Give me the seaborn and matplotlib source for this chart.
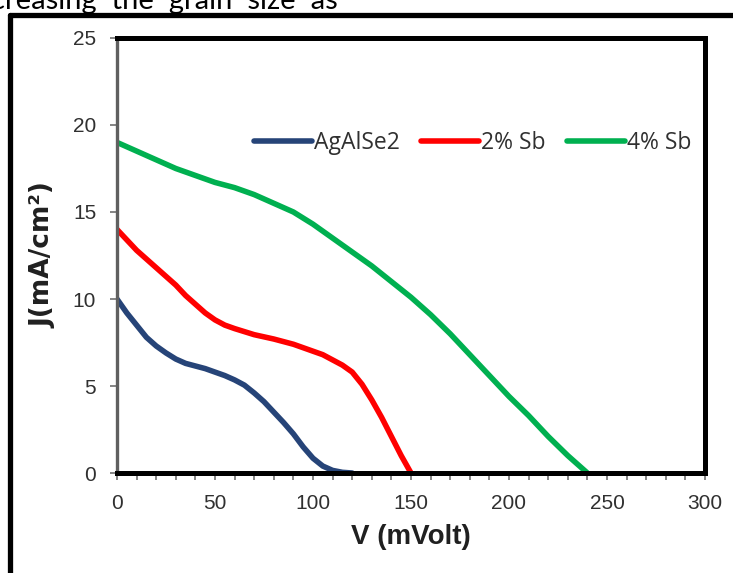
import matplotlib
matplotlib.use("Agg")
import matplotlib.pyplot as plt
from matplotlib.lines import Line2D
from matplotlib.ticker import MultipleLocator
import seaborn as sns
import pandas as pd

# J-V curves of the cells
v_base = [0, 5, 10, 15, 20, 25, 30, 35, 40, 45, 50, 55, 60, 65, 70, 75, 80,
          85, 90, 95, 100, 105, 110, 115, 120]
j_base = [10, 9.2, 8.5, 7.8, 7.3, 6.9, 6.55, 6.3, 6.15, 6.0, 5.8, 5.6, 5.35,
          5.05, 4.6, 4.1, 3.5, 2.9, 2.25, 1.5, 0.85, 0.4, 0.15, 0.04, 0]

v_sb2 = [0, 5, 10, 15, 20, 25, 30, 35, 40, 45, 50, 55, 60, 70, 80, 90, 100,
         105, 110, 115, 120, 125, 130, 135, 140, 145, 150]
j_sb2 = [14, 13.4, 12.8, 12.3, 11.8, 11.3, 10.8, 10.2, 9.7, 9.2, 8.8, 8.5,
         8.3, 7.95, 7.7, 7.4, 7.0, 6.8, 6.5, 6.2, 5.8, 5.1, 4.2, 3.2, 2.1,
         1.0, 0]

v_sb4 = [0, 10, 20, 30, 40, 50, 60, 70, 80, 90, 100, 110, 120, 130, 140,
         150, 160, 170, 180, 190, 200, 210, 220, 230, 240]
j_sb4 = [19, 18.5, 18.0, 17.5, 17.1, 16.7, 16.4, 16.0, 15.5, 15.0, 14.3,
         13.5, 12.7, 11.9, 11.0, 10.1, 9.1, 8.0, 6.8, 5.6, 4.4, 3.3, 2.1,
         1.0, 0]

series_names = ["AgAlSe2", "2% Sb", "4% Sb"]
series_colors = ["#264478", "#FF0000", "#00B050"]

x_ticks = [0, 50, 100, 150, 200, 250, 300]
y_ticks = [0, 5, 10, 15, 20, 25]

frames = []
for name, v, j in zip(series_names, [v_base, v_sb2, v_sb4], [j_base, j_sb2, j_sb4]):
    frames.append(pd.DataFrame({"V": v, "J": j, "sample": name}))
df = pd.concat(frames, ignore_index=True)

sns.set_style("white")
plt.rcParams["font.family"] = ["Liberation Sans", "DejaVu Sans"]

fig = plt.figure(figsize=(7.33, 5.73), dpi=100)
ax = fig.add_axes([0.1596, 0.1745, 0.8022, 0.7592])

sns.lineplot(data=df, x="V", y="J", hue="sample", hue_order=series_names,
             palette=series_colors, linewidth=4.0, sort=False, ax=ax,
             legend=False, solid_capstyle="round", solid_joinstyle="round")

ax.set_xlim(0, 300)
ax.set_ylim(0, 25)
ax.set_xticks(x_ticks)
ax.set_yticks(y_ticks)
ax.xaxis.set_minor_locator(MultipleLocator(10))

for side in ["top", "right", "bottom"]:
    ax.spines[side].set_color("black")
    ax.spines[side].set_linewidth(3.6)
ax.spines["left"].set_color("#606060")
ax.spines["left"].set_linewidth(2.4)

ax.tick_params(axis="x", which="both", direction="out", length=5, width=1.2,
               color="#707070", bottom=True, labelsize=15,
               labelcolor="#303030", pad=10)
ax.tick_params(axis="y", direction="out", length=5, width=1.2,
               color="#707070", left=True, labelsize=15,
               labelcolor="#303030", pad=10)

ax.set_xlabel("V (mVolt)", fontsize=20, fontweight="bold", labelpad=8,
              color="#202020")
ax.set_ylabel("J(mA/cm²)", fontsize=19, fontweight="bold", labelpad=12,
              color="#202020", fontfamily=["DejaVu Sans"])

handles = [Line2D([0], [0], color=c, lw=4.0, solid_capstyle="round")
           for c in series_colors]
leg = ax.legend(handles, series_names, loc="center",
                bbox_to_anchor=(0.605, 0.759), ncol=3, frameon=False,
                handlelength=2.5, handletextpad=0.1, columnspacing=0.95,
                prop={"family": ["Open Sans", "DejaVu Sans"], "size": 16.5})
for t in leg.get_texts():
    t.set_color("#303030")

# surrounding page frame and running text
fig.add_artist(Line2D([0.0136, 0.0136], [0.0, 0.974], transform=fig.transFigure,
                      color="black", lw=3.8))
fig.add_artist(Line2D([0.0136, 1.0], [0.974, 0.974], transform=fig.transFigure,
                      color="black", lw=3.8))
fig.text(-0.012, 0.985, "creasing  the  grain  size  as", fontsize=21,
         fontfamily=["Lato", "DejaVu Sans"], color="black", va="baseline")

fig.savefig("out.png", dpi=100)
